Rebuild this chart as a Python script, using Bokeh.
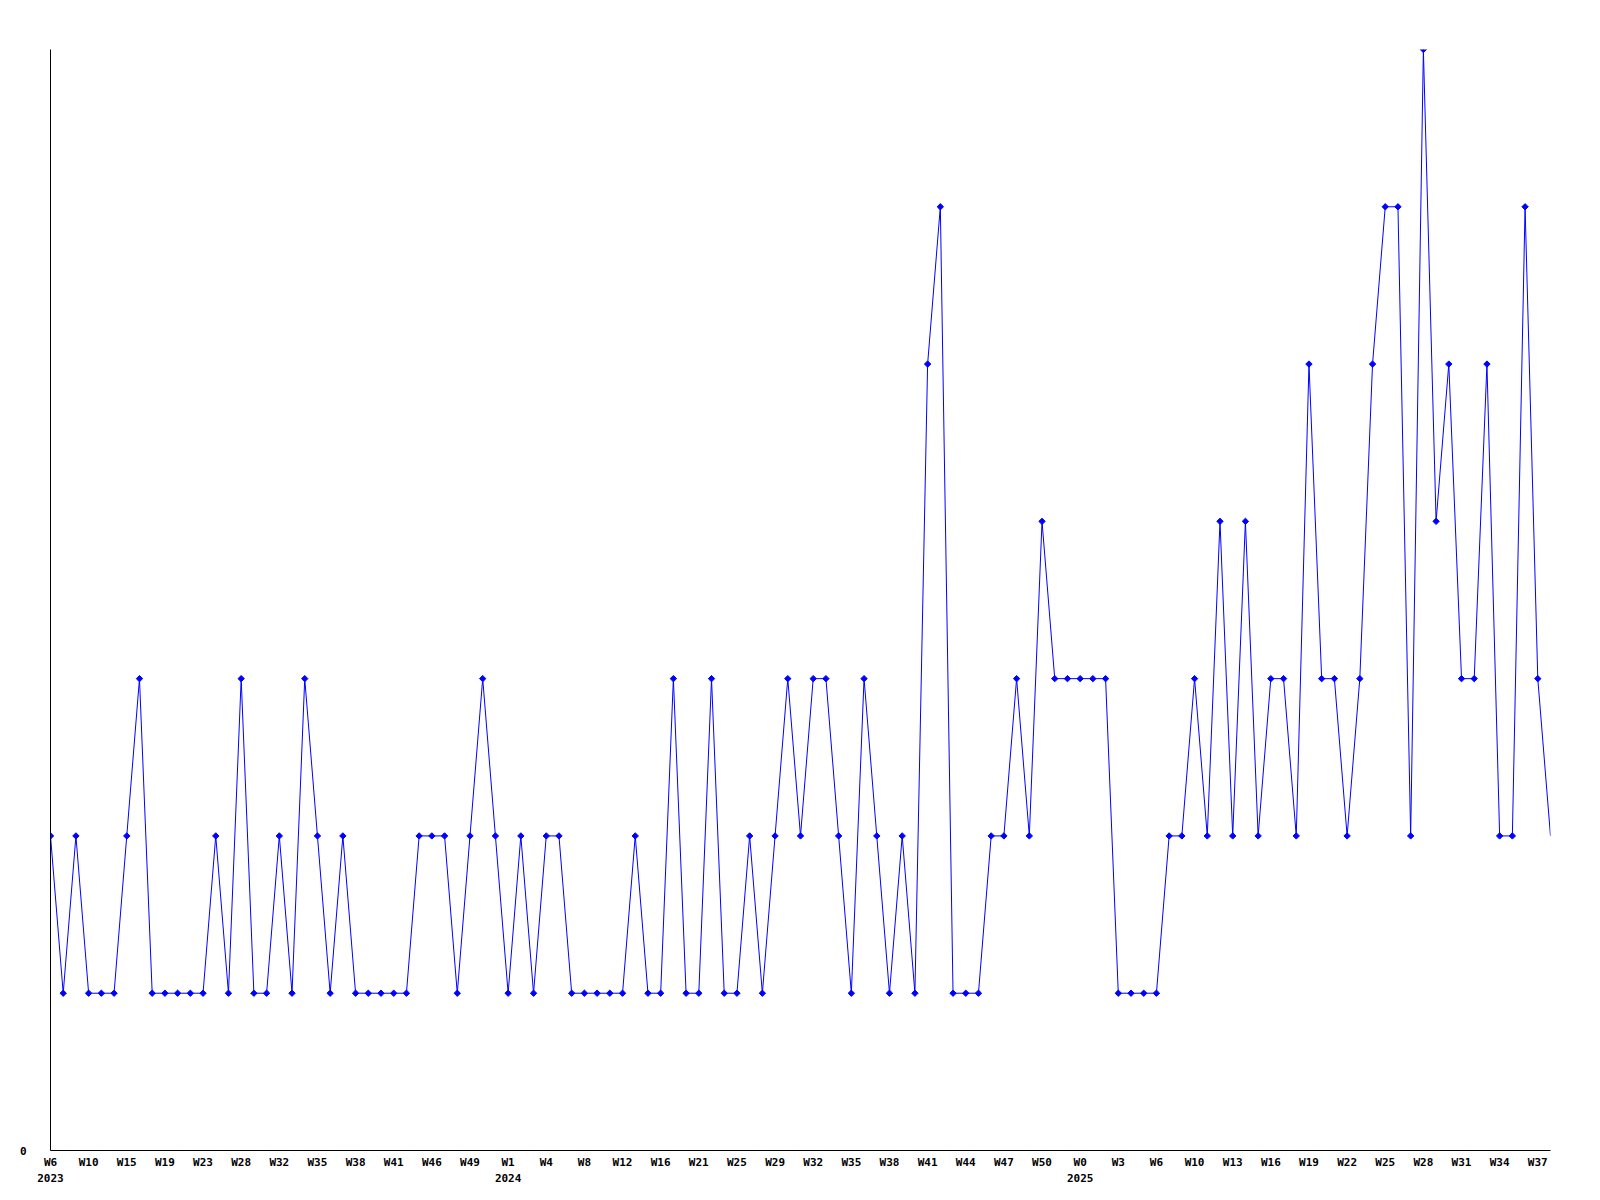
from bokeh.plotting import figure
from bokeh.models import Range1d, FixedTicker, LinearAxis, ColumnDataSource
from bokeh.embed import file_html
from bokeh.resources import INLINE

# ---- data ----
values = [2, 1, 2, 1, 1, 1, 2, 3, 1, 1, 1, 1, 1, 2, 1, 3, 1, 1, 2, 1,
          3, 2, 1, 2, 1, 1, 1, 1, 1, 2, 2, 2, 1, 2, 3, 2, 1, 2, 1, 2,
          2, 1, 1, 1, 1, 1, 2, 1, 1, 3, 1, 1, 3, 1, 1, 2, 1, 2, 3, 2,
          3, 3, 2, 1, 3, 2, 1, 2, 1, 5, 6, 1, 1, 1, 2, 2, 3, 2, 4, 3,
          3, 3, 3, 3, 1, 1, 1, 1, 2, 2, 3, 2, 4, 2, 4, 2, 3, 3, 2, 5,
          3, 3, 2, 3, 5, 6, 6, 2, 7, 4, 5, 3, 3, 5, 2, 2, 6, 3, 2]
week_labels = ["W6", "W10", "W15", "W19", "W23", "W28", "W32", "W35", "W38", "W41",
               "W46", "W49", "W1", "W4", "W8", "W12", "W16", "W21", "W25", "W29",
               "W32", "W35", "W38", "W41", "W44", "W47", "W50", "W0", "W3", "W6",
               "W10", "W13", "W16", "W19", "W22", "W25", "W28", "W31", "W34", "W37"]
label_step = 3
year_labels = {0: "2023", 12: "2024", 27: "2025"}  # label index -> year

x = list(range(len(values)))
week_ticks = [k * label_step for k in range(len(week_labels))]
year_ticks = [k * label_step for k in year_labels]

FONT = "DejaVu Sans Mono"

p = figure(width=1592, height=1192, output_backend="svg", toolbar_location=None,
           x_range=Range1d(0, len(values) - 1), y_range=Range1d(0, 7),
           min_border_left=50, min_border_right=42, min_border_top=49, min_border_bottom=42)
p.outline_line_color = None
p.xgrid.visible = False
p.ygrid.visible = False
p.background_fill_color = "white"
p.border_fill_color = "white"

src = ColumnDataSource(dict(x=x, y=values))
p.line("x", "y", source=src, line_color="#0000ff", line_width=1)
msrc = ColumnDataSource(dict(x=x[:-1], y=values[:-1]))
p.scatter("x", "y", source=msrc, marker="square", angle=0.785, size=4.5,
          fill_color="#0000ff", line_color="#0000ff", line_width=1)

# x axis (weeks)
xa = p.xaxis[0]
xa.ticker = FixedTicker(ticks=week_ticks)
xa.major_label_overrides = {t: l for t, l in zip(week_ticks, week_labels)}
xa.major_tick_line_color = None
xa.minor_tick_line_color = None
xa.major_tick_out = 0
xa.major_tick_in = 0
xa.axis_line_color = "black"
xa.axis_line_width = 1
xa.major_label_standoff = 5
xa.major_label_text_font = FONT
xa.major_label_text_font_style = "bold"
xa.major_label_text_font_size = "11px"
xa.major_label_text_color = "black"

# year axis
ya2 = LinearAxis(ticker=FixedTicker(ticks=year_ticks),
                 major_label_overrides={t: year_labels[t // label_step] for t in year_ticks})
ya2.axis_line_color = None
ya2.major_tick_line_color = None
ya2.minor_tick_line_color = None
ya2.major_tick_out = 0
ya2.major_tick_in = 0
ya2.major_label_standoff = 2
ya2.major_label_text_font = FONT
ya2.major_label_text_font_style = "bold"
ya2.major_label_text_font_size = "11px"
ya2.major_label_text_color = "black"
p.add_layout(ya2, "below")

# y axis
yax = p.yaxis[0]
yax.ticker = FixedTicker(ticks=[0])
yax.major_tick_line_color = None
yax.minor_tick_line_color = None
yax.major_tick_out = 0
yax.major_tick_in = 0
yax.axis_line_color = "black"
yax.major_label_standoff = 24
yax.major_label_text_font = FONT
yax.major_label_text_font_style = "bold"
yax.major_label_text_font_size = "11px"
yax.major_label_text_color = "black"

open("out.html", "w").write(file_html(p, INLINE))
